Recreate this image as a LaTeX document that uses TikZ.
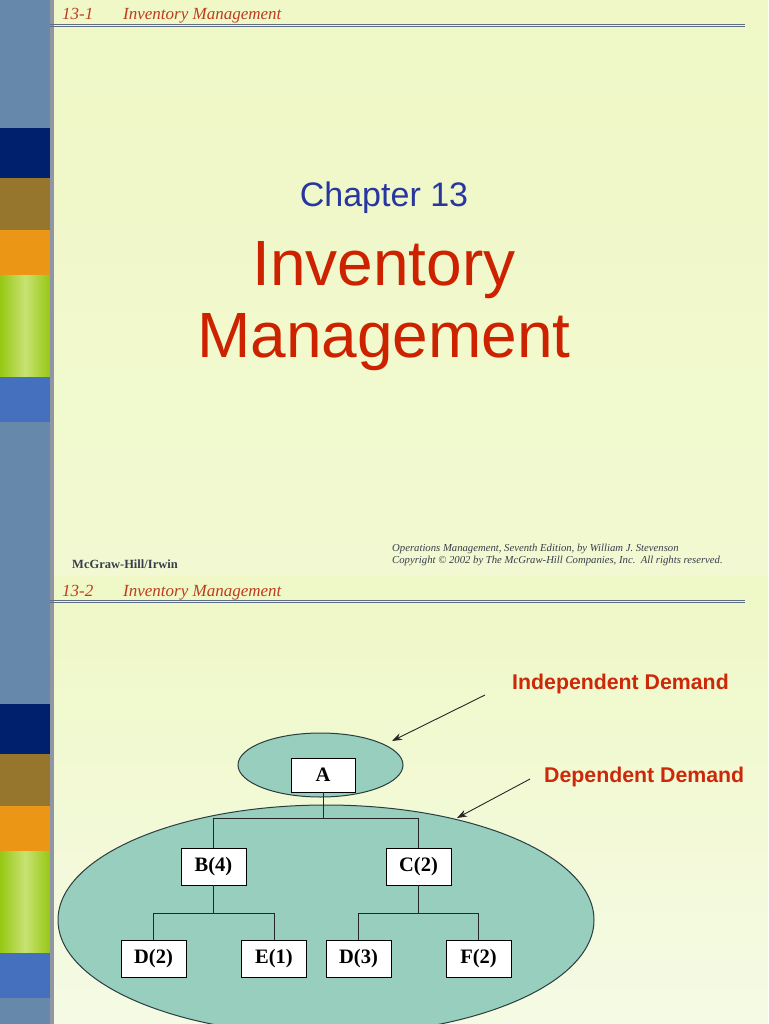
\documentclass[tikz,border=0pt]{standalone}
\usepackage{fontspec}
\setmainfont{Liberation Serif}
\newfontfamily\arialf{Liberation Sans}
\usetikzlibrary{shapes.geometric,arrows.meta}
\definecolor{steel}{RGB}{102,136,170}
\definecolor{navyb}{RGB}{0,32,110}
\definecolor{brownb}{RGB}{150,118,45}
\definecolor{orangeb}{RGB}{235,150,20}
\definecolor{gedge}{RGB}{150,200,20}
\definecolor{gmid}{RGB}{200,226,115}
\definecolor{blueb}{RGB}{68,112,190}
\definecolor{divgray}{RGB}{146,150,162}
\definecolor{hline}{RGB}{95,110,130}
\definecolor{bgtop}{RGB}{239,248,198}
\definecolor{bgbot1}{RGB}{242,249,210}
\definecolor{bgbot2}{RGB}{245,250,228}
\definecolor{hdrred}{RGB}{190,60,30}
\definecolor{chapblue}{RGB}{40,55,160}
\definecolor{titlered}{RGB}{204,34,0}
\definecolor{demred}{RGB}{204,40,10}
\definecolor{foot}{RGB}{55,62,75}
\definecolor{tealfill}{RGB}{152,206,190}
\definecolor{tealline}{RGB}{40,62,62}
\begin{document}
\begin{tikzpicture}[x=1pt,y=-1pt,
  hdr/.style={font=\itshape\fontsize{17}{20}\selectfont, text=hdrred, anchor=base west, inner sep=0pt},
  hrule/.style={draw=hline, line width=0.9pt},
  title/.style={font=\arialf\fontsize{64}{70}\selectfont, text=titlered, anchor=base, inner sep=0pt},
  demand/.style={font=\arialf\bfseries\fontsize{21.3}{24}\selectfont, text=demred, anchor=base west, inner sep=0pt},
  part/.style={draw=black, fill=white, line width=0.9pt, minimum width=65pt, minimum height=37pt, inner sep=0pt, font=\bfseries\fontsize{20.5}{23}\selectfont},
  group/.style={ellipse, draw=tealline, fill=tealfill, line width=1pt, inner sep=0pt},
  tree/.style={draw=black!85, line width=0.9pt},
  pointer/.style={draw=black!85, line width=0.9pt, -{Stealth[length=10pt,width=7pt]}}]
\useasboundingbox (0,0) rectangle (768,1024);
\clip (0,0) rectangle (768,1024);
% backgrounds
\shade[top color=bgtop, bottom color=bgbot1] (53,0) rectangle (768,576);
\shade[top color=bgtop, bottom color=bgbot2] (53,576) rectangle (768,1024);
% sidebar
\fill[steel] (0,0) rectangle (50,1024);
\foreach \o in {0,576}{
  \fill[navyb] (0,128+\o) rectangle (50,178+\o);
  \fill[brownb] (0,178+\o) rectangle (50,230+\o);
  \fill[orangeb] (0,230+\o) rectangle (50,275+\o);
  \shade[left color=gedge, right color=gedge, middle color=gmid] (0,275+\o) rectangle (50,377+\o);
  \fill[blueb] (0,377+\o) rectangle (50,422+\o);
}
\fill[divgray] (50,0) rectangle (53.5,1024);
% slide 1 header
\node[hdr] (h1n) at (62,20) {13-1};
\node[hdr] (h1t) at (123,20) {Inventory Management};
\draw[hrule] (50,24.7) -- (745,24.7);
\draw[hrule] (50,26.9) -- (745,26.9);
% slide 1 title
\node[font=\arialf\fontsize{34}{40}\selectfont, text=chapblue, anchor=base, inner sep=0pt] (chap) at (384,207) {Chapter 13};
\node[title] (t1) at (384,285) {Inventory};
\node[title] (t2) at (384,357) {Management};
% slide 1 footer
\node[font=\bfseries\fontsize{12.5}{14}\selectfont, text=foot, anchor=base west, inner sep=0pt] (mh) at (72,568) {McGraw-Hill/Irwin};
\node[font=\itshape\fontsize{10.7}{12}\selectfont, text=foot, anchor=base west, inner sep=0pt] (ops) at (392,551.5) {Operations Management, Seventh Edition, by William J. Stevenson};
\node[font=\itshape\fontsize{10.7}{12}\selectfont, text=foot, anchor=base west, inner sep=0pt] (copy) at (392,563.5) {Copyright \textcopyright\ 2002 by The McGraw-Hill Companies, Inc.\ \ All rights reserved.};
% slide 2 header
\node[hdr] (h2n) at (62,596) {13-2};
\node[hdr] (h2t) at (123,596) {Inventory Management};
\draw[hrule] (50,600.7) -- (745,600.7);
\draw[hrule] (50,602.9) -- (745,602.9);
% slide 2 diagram
\node[group, minimum width=536pt, minimum height=230pt] (dep) at (326,920) {};
\node[group, minimum width=165pt, minimum height=64pt] (ind) at (320.5,765) {};
\node[demand] (indl) at (512,689) {Independent Demand};
\node[demand] (depl) at (544,782) {Dependent Demand};
\node[part, minimum width=64pt, minimum height=34pt] (A) at (323,775) {A};
\node[part] (B) at (213.5,866.5) {B(4)};
\node[part] (C) at (418.5,866.5) {C(2)};
\node[part] (D2) at (153.5,958.5) {D(2)};
\node[part] (E1) at (274,958.5) {E(1)};
\node[part] (D3) at (358.5,958.5) {D(3)};
\node[part] (F2) at (478.5,958.5) {F(2)};
\coordinate (abus) at (323,818);
\coordinate (bbus) at (213.5,913.5);
\coordinate (cbus) at (418.5,913.5);
\draw[tree] (A.south) -- (abus);
\draw[tree] (B.north) |- (abus) -| (C.north);
\draw[tree] (B.south) -- (bbus);
\draw[tree] (D2.north) |- (bbus) -| (E1.north);
\draw[tree] (C.south) -- (cbus);
\draw[tree] (D3.north) |- (cbus) -| (F2.north);
% pointers
\coordinate (indtail) at (485,695);
\coordinate (indtip) at (392,741);
\coordinate (deptail) at (530,779);
\coordinate (deptip) at (457,818);
\draw[pointer] (indtail) -- (indtip);
\draw[pointer] (deptail) -- (deptip);
\end{tikzpicture}
\end{document}
